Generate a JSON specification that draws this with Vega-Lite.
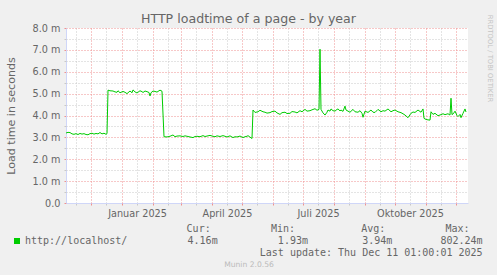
{
  "$schema": "https://vega.github.io/schema/vega-lite/v6.json",
  "width": 402,
  "height": 175,
  "autosize": "none",
  "padding": {"left": 66, "top": 28, "right": 29, "bottom": 72},
  "background": "#F0F0F0",
  "title": {"text": "HTTP loadtime of a page - by year", "font": "DejaVu Sans", "fontSize": 12.6, "fontWeight": "normal", "color": "#666666", "anchor": "middle", "frame": "bounds", "offset": 0, "baseline": "alphabetic", "dy": 21},
  "config": {"view": {"fill": "#FFFFFF", "stroke": null}, "font": "DejaVu Sans"},
  "data": {"values": [
    {"t":"2024-11-06","v":0.00320},{"t":"2024-11-08","v":0.00323},{"t":"2024-11-10","v":0.00322},{"t":"2024-11-12","v":0.00316},{"t":"2024-11-14","v":0.00314},{"t":"2024-11-16","v":0.00317},{"t":"2024-11-18","v":0.00313},{"t":"2024-11-20","v":0.00318},{"t":"2024-11-22","v":0.00315},{"t":"2024-11-24","v":0.00317},{"t":"2024-11-26","v":0.00313},{"t":"2024-11-28","v":0.00312},{"t":"2024-11-30","v":0.00317},{"t":"2024-12-02","v":0.00319},{"t":"2024-12-04","v":0.00315},{"t":"2024-12-06","v":0.00318},{"t":"2024-12-08","v":0.00316},{"t":"2024-12-10","v":0.00322},{"t":"2024-12-12","v":0.00316},{"t":"2024-12-14","v":0.00319},{"t":"2024-12-16","v":0.00314},{"t":"2024-12-17","v":0.00317},
    {"t":"2024-12-18","v":0.00516},{"t":"2024-12-20","v":0.00513},{"t":"2024-12-23","v":0.00512},{"t":"2024-12-25","v":0.00508},{"t":"2024-12-27","v":0.00506},{"t":"2024-12-28","v":0.00513},{"t":"2024-12-30","v":0.00504},{"t":"2025-01-02","v":0.00510},{"t":"2025-01-04","v":0.00506},{"t":"2025-01-06","v":0.00500},{"t":"2025-01-09","v":0.00512},{"t":"2025-01-11","v":0.00504},{"t":"2025-01-12","v":0.00517},{"t":"2025-01-14","v":0.00508},{"t":"2025-01-16","v":0.00503},{"t":"2025-01-19","v":0.00513},{"t":"2025-01-21","v":0.00509},{"t":"2025-01-22","v":0.00505},{"t":"2025-01-24","v":0.00512},{"t":"2025-01-26","v":0.00509},{"t":"2025-01-28","v":0.00505},{"t":"2025-01-29","v":0.00489},{"t":"2025-01-30","v":0.00504},{"t":"2025-02-01","v":0.00512},{"t":"2025-02-03","v":0.00510},{"t":"2025-02-05","v":0.00507},{"t":"2025-02-07","v":0.00513},{"t":"2025-02-08","v":0.00516},{"t":"2025-02-10","v":0.00511},
    {"t":"2025-02-12","v":0.00303},{"t":"2025-02-15","v":0.00302},{"t":"2025-02-18","v":0.00305},{"t":"2025-02-21","v":0.00311},{"t":"2025-02-23","v":0.00303},{"t":"2025-02-25","v":0.00306},{"t":"2025-02-28","v":0.00307},{"t":"2025-03-03","v":0.00304},{"t":"2025-03-05","v":0.00307},{"t":"2025-03-07","v":0.00305},{"t":"2025-03-10","v":0.00302},{"t":"2025-03-13","v":0.00299},{"t":"2025-03-15","v":0.00304},{"t":"2025-03-17","v":0.00305},{"t":"2025-03-20","v":0.00303},{"t":"2025-03-23","v":0.00308},{"t":"2025-03-25","v":0.00304},{"t":"2025-03-27","v":0.00306},{"t":"2025-03-30","v":0.00309},{"t":"2025-04-02","v":0.00305},{"t":"2025-04-04","v":0.00303},{"t":"2025-04-06","v":0.00307},{"t":"2025-04-09","v":0.00304},{"t":"2025-04-12","v":0.00308},{"t":"2025-04-14","v":0.00305},{"t":"2025-04-16","v":0.00302},{"t":"2025-04-19","v":0.00307},{"t":"2025-04-22","v":0.00299},{"t":"2025-04-24","v":0.00303},{"t":"2025-04-26","v":0.00302},{"t":"2025-04-29","v":0.00306},{"t":"2025-05-02","v":0.00299},{"t":"2025-05-04","v":0.00303},{"t":"2025-05-06","v":0.00305},{"t":"2025-05-07","v":0.00308},{"t":"2025-05-09","v":0.00301},{"t":"2025-05-11","v":0.00295},
    {"t":"2025-05-12","v":0.00425},{"t":"2025-05-14","v":0.00414},{"t":"2025-05-17","v":0.00417},{"t":"2025-05-19","v":0.00424},{"t":"2025-05-22","v":0.00417},{"t":"2025-05-24","v":0.00415},{"t":"2025-05-26","v":0.00411},{"t":"2025-05-29","v":0.00413},{"t":"2025-05-31","v":0.00418},{"t":"2025-06-03","v":0.00420},{"t":"2025-06-05","v":0.00412},{"t":"2025-06-08","v":0.00405},{"t":"2025-06-10","v":0.00413},{"t":"2025-06-13","v":0.00415},{"t":"2025-06-15","v":0.00409},{"t":"2025-06-18","v":0.00410},{"t":"2025-06-20","v":0.00418},{"t":"2025-06-23","v":0.00416},{"t":"2025-06-25","v":0.00412},{"t":"2025-06-28","v":0.00422},{"t":"2025-06-30","v":0.00417},{"t":"2025-07-03","v":0.00428},{"t":"2025-07-05","v":0.00420},{"t":"2025-07-08","v":0.00422},{"t":"2025-07-10","v":0.00426},{"t":"2025-07-13","v":0.00431},{"t":"2025-07-15","v":0.00424},{"t":"2025-07-17","v":0.00428},{"t":"2025-07-18","v":0.00703},{"t":"2025-07-19","v":0.00428},{"t":"2025-07-21","v":0.00412},{"t":"2025-07-23","v":0.00402},{"t":"2025-07-25","v":0.00415},{"t":"2025-07-26","v":0.00425},{"t":"2025-07-28","v":0.00420},{"t":"2025-07-29","v":0.00430},{"t":"2025-07-31","v":0.00422},{"t":"2025-08-02","v":0.00420},{"t":"2025-08-04","v":0.00428},{"t":"2025-08-05","v":0.00430},{"t":"2025-08-07","v":0.00421},{"t":"2025-08-08","v":0.00425},{"t":"2025-08-10","v":0.00419},{"t":"2025-08-12","v":0.00443},{"t":"2025-08-13","v":0.00425},{"t":"2025-08-15","v":0.00420},{"t":"2025-08-17","v":0.00415},{"t":"2025-08-20","v":0.00428},{"t":"2025-08-22","v":0.00417},{"t":"2025-08-25","v":0.00415},{"t":"2025-08-27","v":0.00422},{"t":"2025-08-29","v":0.00410},{"t":"2025-08-30","v":0.00392},{"t":"2025-09-01","v":0.00420},{"t":"2025-09-04","v":0.00414},{"t":"2025-09-07","v":0.00425},{"t":"2025-09-09","v":0.00415},{"t":"2025-09-11","v":0.00414},{"t":"2025-09-14","v":0.00428},{"t":"2025-09-17","v":0.00417},{"t":"2025-09-19","v":0.00422},{"t":"2025-09-21","v":0.00420},{"t":"2025-09-24","v":0.00430},{"t":"2025-09-27","v":0.00417},{"t":"2025-09-29","v":0.00422},{"t":"2025-10-01","v":0.00425},{"t":"2025-10-04","v":0.00417},{"t":"2025-10-07","v":0.00413},{"t":"2025-10-09","v":0.00408},{"t":"2025-10-11","v":0.00402},{"t":"2025-10-14","v":0.00390},{"t":"2025-10-17","v":0.00410},{"t":"2025-10-19","v":0.00416},{"t":"2025-10-21","v":0.00414},{"t":"2025-10-24","v":0.00425},{"t":"2025-10-27","v":0.00415},{"t":"2025-10-29","v":0.00430},{"t":"2025-10-30","v":0.00387},{"t":"2025-11-01","v":0.00382},{"t":"2025-11-03","v":0.00380},{"t":"2025-11-05","v":0.00379},{"t":"2025-11-06","v":0.00417},{"t":"2025-11-08","v":0.00405},{"t":"2025-11-10","v":0.00410},{"t":"2025-11-13","v":0.00399},{"t":"2025-11-16","v":0.00404},{"t":"2025-11-18","v":0.00408},{"t":"2025-11-20","v":0.00404},{"t":"2025-11-23","v":0.00408},{"t":"2025-11-25","v":0.00402},{"t":"2025-11-26","v":0.00479},{"t":"2025-11-27","v":0.00404},{"t":"2025-11-29","v":0.00412},{"t":"2025-11-30","v":0.00420},{"t":"2025-12-02","v":0.00400},{"t":"2025-12-03","v":0.00395},{"t":"2025-12-05","v":0.00405},{"t":"2025-12-06","v":0.00390},{"t":"2025-12-08","v":0.00410},{"t":"2025-12-10","v":0.00430},{"t":"2025-12-11","v":0.00416}
  ]},
  "layer": [
    {
      "mark": {"type": "line", "strokeWidth": 1, "interpolate": "linear"},
      "encoding": {
        "x": {"field": "t", "type": "temporal",
          "scale": {"type": "utc", "domain": [{"year": 2024, "month": 11, "date": 6, "utc": true}, {"year": 2025, "month": 12, "date": 13, "utc": true}]},
          "axis": {"orient": "bottom",
            "values": [{"year":2024,"month":11,"date":16,"utc":true},{"year":2024,"month":12,"date":16,"utc":true},{"year":2025,"month":1,"date":16,"utc":true},{"year":2025,"month":2,"date":16,"utc":true},{"year":2025,"month":3,"date":16,"utc":true},{"year":2025,"month":4,"date":16,"utc":true},{"year":2025,"month":5,"date":16,"utc":true},{"year":2025,"month":6,"date":16,"utc":true},{"year":2025,"month":7,"date":16,"utc":true},{"year":2025,"month":8,"date":16,"utc":true},{"year":2025,"month":9,"date":16,"utc":true},{"year":2025,"month":10,"date":16,"utc":true},{"year":2025,"month":11,"date":16,"utc":true}],
            "labelExpr": "utcmonth(datum.value)==0 ? 'Januar 2025' : utcmonth(datum.value)==3 ? 'April 2025' : utcmonth(datum.value)==6 ? 'Juli 2025' : utcmonth(datum.value)==9 ? 'Oktober 2025' : ''",
            "grid": true, "gridColor": "#C8C8C8", "gridDash": [1, 2], "gridWidth": 1,
            "ticks": true, "tickColor": "#C8C8C8", "tickSize": 2,
            "domain": true, "domainColor": "#CFD6F8", "domainWidth": 1,
            "labelFont": "DejaVu Sans", "labelFontSize": 9.7, "labelColor": "#666666", "labelPadding": 3,
            "labelOverlap": false, "labelFlush": false, "labelBound": false,
            "title": "Munin 2.0.56", "titleFont": "DejaVu Sans", "titleFontSize": 7.6, "titleFontWeight": "normal", "titleColor": "#BBBBBB",
            "titleX": 182.5, "titleY": 61, "titleAlign": "center", "titleBaseline": "middle"}},
        "y": {"field": "v", "type": "quantitative",
          "scale": {"domain": [0, 0.008], "nice": false, "zero": true},
          "axis": {"orient": "left",
            "values": [0, 0.001, 0.002, 0.003, 0.004, 0.005, 0.006, 0.007, 0.008],
            "labelExpr": "datum.value == 0 ? '0.0\u00a0\u00a0' : format(datum.value * 1000, '.1f') + ' m'",
            "grid": true, "gridColor": "#EE9090", "gridDash": [1, 2], "gridWidth": 1,
            "ticks": true, "tickColor": "#EE9090", "tickSize": 2,
            "domain": true, "domainColor": "#CFD6F8", "domainWidth": 1,
            "labelFont": "DejaVu Sans", "labelFontSize": 9.7, "labelColor": "#666666", "labelPadding": 4,
            "labelOverlap": false, "labelFlush": false, "labelBound": false, "labelBaseline": "middle",
            "title": "Load time in seconds", "titleFont": "DejaVu Sans", "titleFontSize": 11.1, "titleFontWeight": "normal", "titleColor": "#666666",
            "titleX": -55, "titleY": 87.5, "titleAngle": 270, "titleAlign": "center", "titleBaseline": "middle"}},
        "color": {"datum": "http://localhost/", "type": "nominal",
          "scale": {"domain": ["http://localhost/", "update"], "range": ["#00CC00", "rgba(0,0,0,0)"]},
          "legend": {"orient": "none", "legendX": -54, "legendY": 196, "direction": "vertical", "padding": 0, "offset": 0,
            "title": "\u200b\u00a0\u00a0\u00a0\u00a0\u00a0\u00a0\u00a0\u00a0\u00a0\u00a0\u00a0\u00a0\u00a0\u00a0\u00a0\u00a0\u00a0\u00a0\u00a0\u00a0\u00a0\u00a0\u00a0\u00a0\u00a0\u00a0\u00a0\u00a0\u00a0Cur:\u00a0\u00a0\u00a0\u00a0\u00a0\u00a0\u00a0\u00a0\u00a0\u00a0Min:\u00a0\u00a0\u00a0\u00a0\u00a0\u00a0\u00a0\u00a0\u00a0\u00a0\u00a0Avg:\u00a0\u00a0\u00a0\u00a0\u00a0\u00a0\u00a0\u00a0\u00a0\u00a0Max:",
            "titleFont": "DejaVu Sans Mono", "titleFontSize": 10, "titleFontWeight": "normal", "titleColor": "#666666", "titlePadding": 2, "titleLimit": 1000,
            "labelFont": "DejaVu Sans Mono", "labelFontSize": 10, "labelColor": "#666666", "labelLimit": 1000, "labelOffset": 3,
            "rowPadding": 2, "symbolType": "square", "symbolSize": 36, "symbolStrokeWidth": 0,
            "labelExpr": "datum.label == 'update' ? '\u200b\u00a0\u00a0\u00a0\u00a0\u00a0\u00a0\u00a0\u00a0\u00a0\u00a0\u00a0\u00a0\u00a0\u00a0\u00a0\u00a0\u00a0\u00a0\u00a0\u00a0\u00a0\u00a0\u00a0\u00a0\u00a0\u00a0\u00a0\u00a0\u00a0\u00a0\u00a0\u00a0\u00a0\u00a0\u00a0\u00a0\u00a0\u00a0\u00a0Last update: Thu Dec 11 01:00:01 2025' : 'http://localhost/\u00a0\u00a0\u00a0\u00a0\u00a0\u00a0\u00a0\u00a0\u00a0\u00a04.16m\u00a0\u00a0\u00a0\u00a0\u00a0\u00a0\u00a0\u00a0\u00a0\u00a01.93m\u00a0\u00a0\u00a0\u00a0\u00a0\u00a0\u00a0\u00a0\u00a03.94m\u00a0\u00a0\u00a0\u00a0\u00a0\u00a0\u00a0\u00a0802.24m'",
            "encode": {"symbols": {"update": {"fill": {"scale": "color", "field": "value"}, "stroke": {"value": "transparent"}, "strokeWidth": {"value": 0}}}}}}
      }
    },
    {
      "mark": {"type": "line", "opacity": 0},
      "encoding": {
        "x": {"field": "t", "type": "temporal",
          "axis": {"orient": "bottom",
            "values": [{"year":2024,"month":12,"date":1,"utc":true},{"year":2025,"month":1,"date":1,"utc":true},{"year":2025,"month":2,"date":1,"utc":true},{"year":2025,"month":3,"date":1,"utc":true},{"year":2025,"month":4,"date":1,"utc":true},{"year":2025,"month":5,"date":1,"utc":true},{"year":2025,"month":6,"date":1,"utc":true},{"year":2025,"month":7,"date":1,"utc":true},{"year":2025,"month":8,"date":1,"utc":true},{"year":2025,"month":9,"date":1,"utc":true},{"year":2025,"month":10,"date":1,"utc":true},{"year":2025,"month":11,"date":1,"utc":true},{"year":2025,"month":12,"date":1,"utc":true}],
            "labels": false, "grid": true, "gridColor": "#EE9090", "gridDash": [1, 2], "gridWidth": 1,
            "ticks": true, "tickColor": "#EE9090", "tickSize": 2, "domain": false, "title": null}},
        "y": {"field": "v", "type": "quantitative",
          "axis": {"orient": "left",
            "values": [0.0005, 0.0015, 0.0025, 0.0035, 0.0045, 0.0055, 0.0065, 0.0075],
            "labels": false, "grid": true, "gridColor": "#C8C8C8", "gridDash": [1, 2], "gridWidth": 1,
            "ticks": true, "tickColor": "#C8C8C8", "tickSize": 2, "domain": false, "title": null}}
      }
    },
    {
      "mark": {"type": "line", "opacity": 0},
      "encoding": {
        "x": {"field": "t", "type": "temporal", "axis": null},
        "y": {"field": "v", "type": "quantitative",
          "axis": {"orient": "right", "values": [], "labels": false, "ticks": false, "domain": false, "grid": false,
            "title": "RRDTOOL / TOBI OETIKER", "titleFont": "DejaVu Sans", "titleFontSize": 6.8, "titleFontWeight": "normal", "titleColor": "#C4C4C4",
            "titleX": 21, "titleY": 30, "titleAngle": 90, "titleAlign": "center", "titleBaseline": "middle"}}
      }
    }
  ],
  "resolve": {"axis": {"x": "independent", "y": "independent"}}
}
